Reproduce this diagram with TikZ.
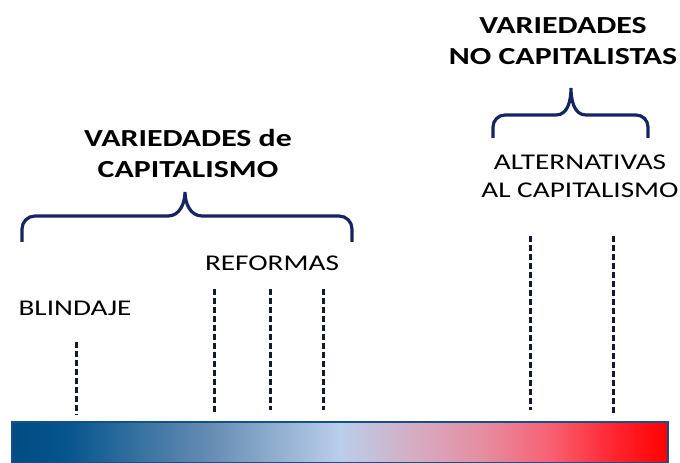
\documentclass[tikz,border=0pt]{standalone}
\usepackage{fontspec}
\setmainfont[FakeStretch=1.3]{Carlito}
\usepackage{tikz}
\usetikzlibrary{positioning, calc}

\definecolor{navybrace}{RGB}{22,36,100}
\definecolor{dashnavy}{RGB}{20,26,46}
\definecolor{barborder}{RGB}{20,80,140}
\pgfdeclarehorizontalshading{capbar}{100bp}{
	rgb(0bp)=(0,0.30,0.51);
	rgb(25bp)=(0,0.30,0.51);
	rgb(29bp)=(0.02,0.33,0.55);
	rgb(40bp)=(0.40,0.55,0.70);
	rgb(50bp)=(0.73,0.81,0.92);
	rgb(56bp)=(0.84,0.67,0.75);
	rgb(61bp)=(0.90,0.55,0.63);
	rgb(66bp)=(0.97,0.38,0.45);
	rgb(71bp)=(1,0.14,0.18);
	rgb(75bp)=(1,0,0);
	rgb(100bp)=(1,0,0)}

\begin{document}
\begin{tikzpicture}[x=1pt, y=1pt,
			title/.style={
			font=\fontsize{24.5}{31}\selectfont\bfseries,
			align=center,
			anchor=center,
		}, label/.style={
			font=\fontsize{22.5}{28}\selectfont,
			align=center,
			anchor=center,
		}, brace line/.style={
			draw=navybrace,
			line width=3.2pt,
		}, marker/.style={
			draw=dashnavy,
			line width=3pt,
			dash pattern=on 6pt off 3pt,
		}, ]
\useasboundingbox (0,0) rectangle (680,463);

% ------ Gradient bar ------- %
\shade[shading=capbar, draw=barborder, line width=1.5pt] (12,0) rectangle (668,41);

% ------ Titles ------- %
\draw
(188,310) node[title](var_cap){VARIEDADES de\\CAPITALISMO}
(563,422) node[title](var_nocap){VARIEDADES\\NO CAPITALISTAS}
(580,287) node[label](alternativas){ALTERNATIVAS\\AL CAPITALISMO}
(272,200) node[label](reformas){REFORMAS}
(75,155) node[label](blindaje){BLINDAJE}
;

% ------ Braces ------- %
\draw[brace line] (22,221) -- (22,234) to[out=90,in=180] (35,247) -- (168,247)
	to[out=0,in=-90] (185,271) to[out=-90,in=180] (202,247) -- (339,247)
	to[out=0,in=90] (352,234) -- (352,221);
\draw[brace line] (493,325) -- (493,336) to[out=90,in=180] (505,348) -- (556,348)
	to[out=0,in=-90] (571,375) to[out=-90,in=180] (586,348) -- (636,348)
	to[out=0,in=90] (648,336) -- (648,325);

% ------ Markers ------- %
\draw[marker] (76,121) -- (76,48);
\draw[marker] (214,174) -- (214,50);
\draw[marker] (270,174) -- (270,53);
\draw[marker] (323,174) -- (323,53);
\draw[marker] (530,227) -- (530,53);
\draw[marker] (613,227) -- (613,50);

\end{tikzpicture}
\end{document}
